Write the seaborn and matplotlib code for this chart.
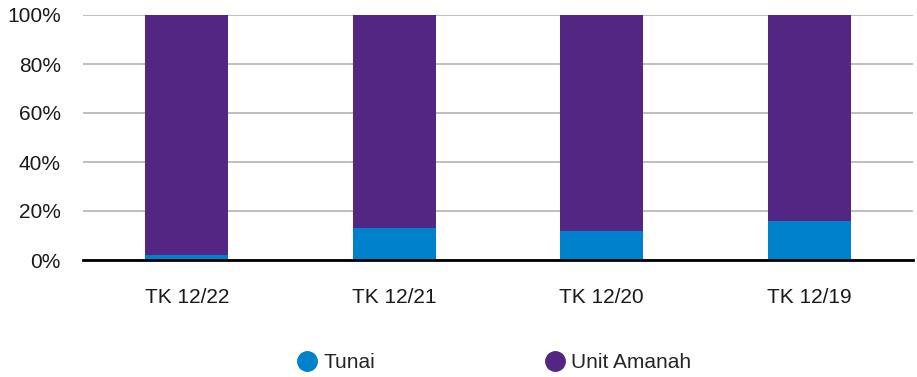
import matplotlib
matplotlib.use("Agg")
import matplotlib.pyplot as plt
import seaborn as sns
import numpy as np
import pandas as pd
from matplotlib.lines import Line2D
from matplotlib.ticker import PercentFormatter

periods = ["TK 12/22", "TK 12/21", "TK 12/20", "TK 12/19"]
tunai = [2, 13, 12, 16]
unit_amanah = [98, 87, 88, 84]
series_names = ["Tunai", "Unit Amanah"]
colors = ["#0081CB", "#522682"]

sns.set_theme(style="white")
plt.rcParams["font.family"] = ["Liberation Sans", "DejaVu Sans"]

df = pd.DataFrame({"period": periods, "Tunai": tunai, "Unit Amanah": unit_amanah})
df["total"] = df["Tunai"] + df["Unit Amanah"]

fig = plt.figure(figsize=(9.17, 3.77), dpi=100)
ax = fig.add_axes([83 / 917, 1 - 260 / 377, (913 - 83) / 917, (260 - 15) / 377])

ax.set_axisbelow(True)
ax.yaxis.grid(True, color="#b3b3b3", linewidth=1.2)
# stacked bars: full stack in purple, cash share drawn over it
sns.barplot(data=df, x="period", y="total", color=colors[1], width=0.4,
            saturation=1, linewidth=0, ax=ax, zorder=2)
sns.barplot(data=df, x="period", y="Tunai", color=colors[0], width=0.4,
            saturation=1, linewidth=0, ax=ax, zorder=3)

ax.set_xlim(-0.5, 3.5)
ax.set_ylim(0, 100)
ax.set_yticks([0, 20, 40, 60, 80, 100])
ax.yaxis.set_major_formatter(PercentFormatter(decimals=0))
ax.set_xlabel("")
ax.set_ylabel("")
for s in ["top", "right", "left"]:
    ax.spines[s].set_visible(False)
ax.spines["bottom"].set_color("black")
ax.spines["bottom"].set_linewidth(2)
ax.spines["bottom"].set_zorder(5)
ax.tick_params(axis="y", labelsize=15, pad=16, colors="#1a1a1a", length=0)
ax.tick_params(axis="x", labelsize=15, pad=20, colors="#1a1a1a", length=0)

handles = [Line2D([0], [0], marker="o", linestyle="", markersize=14,
                  markerfacecolor=c, markeredgecolor=c) for c in colors]
fig.legend(handles, series_names, loc="center", bbox_to_anchor=(494 / 917, 1 - 363 / 377),
           ncol=2, frameon=False, fontsize=15, columnspacing=8.1,
           handlelength=1, handletextpad=0.3, borderpad=0, borderaxespad=0)

fig.savefig("out.png", dpi=100)
